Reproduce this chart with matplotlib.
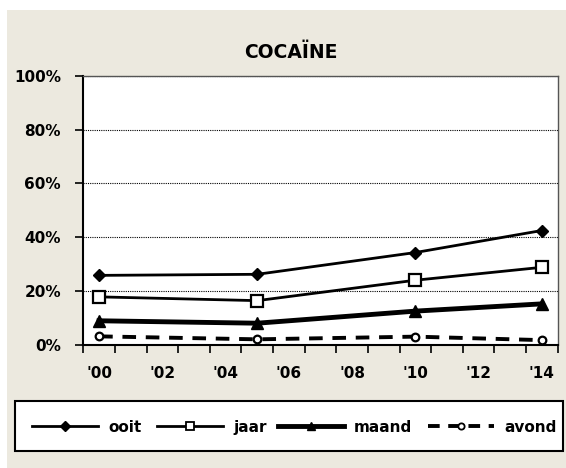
import matplotlib
matplotlib.use("Agg")
import matplotlib.pyplot as plt
from matplotlib.lines import Line2D
from matplotlib.ticker import FixedLocator, PercentFormatter

plt.rcParams['font.family'] = ['DejaVu Sans']

years = [2000, 2005, 2010, 2014]
ooit = [25.8, 26.2, 34.3, 42.5]
jaar = [17.8, 16.4, 24.0, 28.8]
maand = [8.9, 8.0, 12.5, 15.2]
avond = [3.1, 2.0, 3.0, 1.7]
series_names = ['ooit', 'jaar', 'maand', 'avond']
tick_years = [2000, 2002, 2004, 2006, 2008, 2010, 2012, 2014]
tick_labels = ["'00", "'02", "'04", "'06", "'08", "'10", "'12", "'14"]
title = "COCAÏNE"

W, H = 566, 468
bg = '#ECE9DF'
fig = plt.figure(figsize=(W/100, H/100), dpi=100, facecolor='white')
fig.patches.append(plt.Rectangle((7/W, 0), 1, 1 - 10/H, transform=fig.transFigure,
                                 facecolor=bg, edgecolor='none', zorder=-10))
# legend frame
fig.patches.append(plt.Rectangle((15/W, 1 - 451/H), 548/W, 50/H, transform=fig.transFigure,
                                 facecolor='white', edgecolor='black', lw=1.5, zorder=-5))

ax = fig.add_axes([83.3/W, 1 - 344.7/H, (557.7-83.3)/W, (344.7-76)/H])
ax.set_facecolor('white')

styles = [
    dict(color='black', lw=2, marker='D', ms=6.5, mfc='black', mec='black'),
    dict(color='black', lw=2, marker='s', ms=8, mfc='white', mec='black', mew=1.6),
    dict(color='black', lw=3.5, marker='^', ms=8, mfc='black', mec='black'),
    dict(color='black', lw=2.8, ls=(0, (3.5, 2.5)), marker='o', ms=5.5, mfc='white',
         mec='black', mew=1.6),
]
for vals, name, st in zip([ooit, jaar, maand, avond], series_names, styles):
    ax.plot(years, vals, label=name, zorder=5, **st)

ax.set_xlim(1999.5, 2014.5)
ax.set_ylim(0, 100)
ax.set_yticks([0, 20, 40, 60, 80, 100])
ax.yaxis.set_major_formatter(PercentFormatter(decimals=0))
ax.set_xticks(tick_years)
ax.set_xticklabels(tick_labels)
ax.xaxis.set_minor_locator(FixedLocator([y + 0.5 for y in range(1999, 2015)]))
ax.tick_params(axis='x', which='major', length=0, pad=15, labelsize=11)
ax.tick_params(axis='x', which='minor', length=6, width=1.2, direction='out', color='black')
ax.tick_params(axis='y', which='major', length=6, width=1.2, direction='out', pad=10, labelsize=11)
for lab in ax.get_xticklabels() + ax.get_yticklabels():
    lab.set_fontweight('bold')

ax.grid(axis='y', color='black', lw=0.8, ls=(0, (1, 1)))
ax.set_axisbelow(True)
for s in ['left', 'bottom']:
    ax.spines[s].set_color('black')
    ax.spines[s].set_linewidth(1.5)
for s in ['right', 'top']:
    ax.spines[s].set_color('#555555')
    ax.spines[s].set_linewidth(1.0)

fig.text(291/W, 1 - 52/H, title, ha='center', va='center', fontsize=13.5, fontweight='bold')

# legend (drawn manually for exact placement)
leg_y = 1 - 426/H
handle_starts = [32, 157, 278, 428]
handle_len = 66
leg_styles = [
    dict(lw=2, marker='D', ms=5, mfc='black'),
    dict(lw=2, marker='s', ms=6, mfc='white', mew=1.3),
    dict(lw=3.5, marker='^', ms=6, mfc='black'),
    dict(lw=2.8, ls=(0, (3.0, 2.2)), marker='o', ms=4.5, mfc='white', mew=1.3),
]
for x0, name, st in zip(handle_starts, series_names, leg_styles):
    st = dict(st)
    marker = st.pop('marker'); ms = st.pop('ms'); mfc = st.pop('mfc'); mew = st.pop('mew', 1)
    lw = st.pop('lw'); ls = st.pop('ls', '-')
    fig.add_artist(Line2D([x0/W, (x0 + handle_len)/W], [leg_y, leg_y], transform=fig.transFigure,
                          color='black', lw=lw, ls=ls))
    fig.add_artist(Line2D([(x0 + handle_len/2)/W], [leg_y], transform=fig.transFigure,
                          color='black', marker=marker, ms=ms, mfc=mfc, mec='black', mew=mew, ls='none'))
    fig.text((x0 + handle_len + 10)/W, leg_y, name, ha='left', va='center_baseline',
             fontsize=11, fontweight='bold')

fig.savefig('out.png', dpi=100, facecolor='white')
